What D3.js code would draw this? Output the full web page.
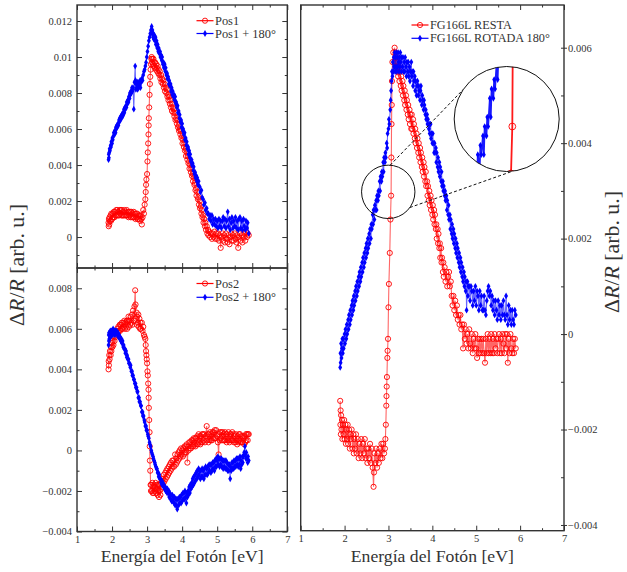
<!DOCTYPE html>
<html><head><meta charset="utf-8">
<script src="https://cdn.jsdelivr.net/npm/d3@7"></script>
<style>body{margin:0;background:#fff}svg{display:block}</style>
</head><body><svg id="c" width="627" height="572"></svg>
<script>
// ---------- DATA (photon energy eV, ΔR/R) ----------
const pos1 = [[1.90,.0008],[1.905,.0006],[1.91,.0010],[1.92,.0007],[1.93,.0011],[1.94,.0009],[1.96,.0012],[1.97,.0009],[1.98,.0013],[2.00,.0010],[2.02,.0013],[2.03,.0011],[2.05,.0014],[2.07,.0011],[2.08,.0014],[2.10,.0012],[2.12,.0015],[2.13,.0012],[2.15,.0015],[2.17,.0012],[2.18,.0014],[2.20,.0012],[2.22,.0015],[2.23,.0013],[2.25,.0015],[2.27,.0012],[2.28,.0015],[2.30,.0012],[2.32,.0014],[2.33,.0012],[2.35,.0015],[2.37,.0012],[2.38,.0014],[2.40,.0012],[2.42,.0015],[2.43,.0012],[2.45,.0014],[2.47,.0011],[2.48,.0014],[2.50,.0012],[2.52,.0014],[2.53,.0011],[2.55,.0014],[2.57,.0011],[2.58,.0013],[2.60,.0011],[2.62,.0014],[2.63,.0011],[2.65,.0013],[2.67,.0010],[2.68,.0013],[2.70,.0011],[2.72,.0013],[2.73,.0010],[2.75,.0012],[2.77,.0010],[2.78,.0012],[2.80,.0009],[2.82,.0012],[2.84,.0010],[2.85,.0007],[2.87,.0011],[2.89,.0015],[2.91,.0013],[2.93,.0018],[2.95,.0021],[2.96,.0025],[2.97,.0029],[2.98,.0032],[3.00,.0035],[3.01,.0042],[3.02,.0047],[3.03,.0052],[3.04,.0057],[3.045,.0062],[3.05,.0066],[3.06,.0072],[3.07,.0079],[3.08,.0085],[3.09,.0089],[3.10,.0093],[3.11,.0096],[3.12,.0099],[3.13,.0100],[3.14,.0097],[3.15,.0099],[3.17,.0096],[3.18,.0099],[3.19,.0095],[3.21,.0097],[3.22,.0094],[3.23,.0097],[3.25,.0093],[3.26,.0096],[3.27,.0094],[3.29,.0092],[3.30,.0095],[3.32,.0091],[3.33,.0093],[3.35,.0090],[3.36,.0092],[3.38,.0088],[3.40,.0090],[3.41,.0086],[3.43,.0088],[3.45,.0085],[3.46,.0087],[3.48,.0083],[3.50,.0085],[3.51,.0081],[3.53,.0083],[3.55,.0080],[3.56,.0082],[3.58,.0078],[3.60,.0079],[3.61,.0076],[3.63,.0078],[3.65,.0074],[3.66,.0076],[3.68,.0072],[3.70,.0074],[3.71,.0070],[3.73,.0072],[3.75,.0069],[3.76,.0071],[3.78,.0067],[3.80,.0069],[3.81,.0065],[3.83,.0066],[3.85,.0063],[3.86,.0065],[3.88,.0061],[3.90,.0062],[3.91,.0059],[3.93,.0060],[3.95,.0057],[3.96,.0059],[3.98,.0055],[4.00,.0056],[4.01,.0052],[4.03,.0054],[4.05,.0050],[4.06,.0052],[4.08,.0048],[4.10,.0049],[4.11,.0045],[4.13,.0047],[4.15,.0043],[4.16,.0045],[4.18,.0041],[4.20,.0042],[4.21,.0038],[4.23,.0040],[4.25,.0036],[4.26,.0038],[4.28,.0034],[4.30,.0035],[4.31,.0031],[4.33,.0033],[4.35,.0029],[4.36,.0030],[4.38,.0026],[4.40,.0027],[4.41,.0023],[4.43,.0025],[4.45,.0021],[4.46,.0022],[4.48,.0018],[4.50,.0020],[4.51,.0016],[4.53,.0017],[4.55,.0013],[4.56,.0015],[4.58,.0011],[4.60,.0012],[4.61,.0008],[4.63,.0010],[4.65,.0006],[4.66,.0008],[4.68,.0004],[4.70,.0006],[4.72,.0002],[4.74,.0004],[4.75,.0001],[4.77,.0003],[4.80,.0000],[4.82,.0002],[4.85,-.0001],[4.87,.0002],[4.90,.0000],[4.92,.0003],[4.95,-.0001],[4.97,.0002],[5.00,-.0001],[5.02,.0002],[5.05,-.0002],[5.07,.0001],[5.10,-.0006],[5.12,.0000],[5.15,.0002],[5.17,-.0002],[5.20,.0001],[5.22,-.0003],[5.25,.0002],[5.27,-.0001],[5.30,-.0003],[5.32,.0001],[5.35,-.0004],[5.37,.0000],[5.40,.0002],[5.42,-.0002],[5.45,.0001],[5.47,-.0002],[5.50,.0002],[5.52,-.0001],[5.55,-.0003],[5.57,.0001],[5.60,-.0006],[5.62,.0000],[5.65,.0002],[5.67,-.0002],[5.70,.0001],[5.72,-.0003],[5.75,.0000],[5.77,.0002],[5.80,-.0002],[5.82,.0003],[5.85,.0000],[5.87,.0002],[5.90,.0001]];
const pos1r = [[1.90,.0043],[1.905,.0046],[1.91,.0044],[1.92,.0047],[1.93,.0049],[1.94,.0048],[1.96,.0051],[1.97,.0050],[1.98,.0053],[2.00,.0052],[2.01,.0055],[2.02,.0054],[2.04,.0056],[2.05,.0058],[2.07,.0057],[2.08,.0059],[2.10,.0058],[2.11,.0061],[2.12,.0060],[2.14,.0062],[2.15,.0061],[2.17,.0063],[2.18,.0062],[2.20,.0065],[2.21,.0064],[2.22,.0066],[2.24,.0065],[2.25,.0067],[2.27,.0066],[2.28,.0068],[2.30,.0067],[2.31,.0069],[2.32,.0068],[2.34,.0071],[2.35,.0069],[2.37,.0072],[2.38,.0071],[2.40,.0073],[2.41,.0072],[2.42,.0075],[2.44,.0074],[2.45,.0076],[2.47,.0075],[2.48,.0078],[2.50,.0077],[2.51,.0080],[2.52,.0079],[2.54,.0081],[2.55,.0080],[2.57,.0083],[2.58,.0081],[2.60,.0083],[2.62,.0071],[2.64,.0086],[2.66,.0095],[2.67,.0087],[2.68,.0082],[2.69,.0085],[2.71,.0083],[2.72,.0086],[2.73,.0082],[2.75,.0085],[2.76,.0083],[2.77,.0086],[2.79,.0084],[2.80,.0087],[2.81,.0083],[2.83,.0086],[2.85,.0088],[2.87,.0087],[2.89,.0090],[2.91,.0092],[2.93,.0093],[2.95,.0095],[2.97,.0097],[2.99,.0100],[3.01,.0103],[3.03,.0106],[3.05,.0109],[3.07,.0111],[3.09,.0113],[3.11,.0115],[3.13,.0117],[3.14,.0113],[3.15,.0115],[3.17,.0111],[3.18,.0113],[3.19,.0110],[3.21,.0112],[3.23,.0109],[3.24,.0111],[3.25,.0107],[3.27,.0109],[3.29,.0105],[3.30,.0107],[3.32,.0103],[3.33,.0105],[3.35,.0102],[3.37,.0103],[3.38,.0100],[3.40,.0101],[3.42,.0098],[3.43,.0100],[3.45,.0096],[3.47,.0097],[3.48,.0094],[3.50,.0096],[3.52,.0092],[3.53,.0094],[3.55,.0090],[3.57,.0091],[3.58,.0088],[3.60,.0089],[3.62,.0085],[3.63,.0087],[3.65,.0084],[3.67,.0085],[3.68,.0081],[3.70,.0083],[3.72,.0079],[3.73,.0081],[3.75,.0078],[3.77,.0079],[3.78,.0076],[3.80,.0078],[3.82,.0074],[3.83,.0075],[3.85,.0072],[3.87,.0073],[3.88,.0069],[3.90,.0070],[3.92,.0066],[3.93,.0068],[3.95,.0064],[3.97,.0065],[3.98,.0061],[4.00,.0063],[4.02,.0059],[4.03,.0060],[4.05,.0057],[4.07,.0058],[4.08,.0054],[4.10,.0055],[4.12,.0051],[4.13,.0053],[4.15,.0049],[4.17,.0050],[4.18,.0046],[4.20,.0048],[4.22,.0044],[4.23,.0046],[4.25,.0042],[4.27,.0043],[4.28,.0040],[4.30,.0041],[4.32,.0037],[4.33,.0039],[4.35,.0035],[4.37,.0036],[4.38,.0033],[4.40,.0034],[4.42,.0031],[4.43,.0033],[4.45,.0029],[4.47,.0031],[4.50,.0028],[4.52,.0025],[4.55,.0026],[4.57,.0022],[4.60,.0021],[4.62,.0018],[4.65,.0019],[4.67,.0015],[4.70,.0016],[4.72,.0013],[4.75,.0013],[4.77,.0010],[4.80,.0012],[4.82,.0009],[4.85,.0012],[4.87,.0007],[4.90,.0010],[4.92,.0007],[4.95,.0010],[4.97,.0006],[5.00,.0009],[5.02,.0005],[5.05,.0010],[5.07,.0006],[5.10,.0009],[5.12,.0005],[5.15,.0009],[5.17,.0011],[5.20,.0006],[5.22,.0010],[5.25,.0005],[5.27,.0009],[5.30,.0014],[5.32,.0006],[5.35,.0010],[5.37,.0004],[5.40,.0008],[5.42,.0011],[5.45,.0005],[5.47,.0009],[5.50,.0006],[5.52,.0011],[5.55,.0005],[5.57,.0009],[5.60,.0004],[5.62,.0010],[5.65,.0011],[5.67,.0005],[5.70,.0009],[5.72,.0004],[5.75,.0010],[5.77,.0006],[5.80,.0004],[5.82,.0009],[5.85,.0005],[5.87,.0008],[5.90,.0002]];
const pos2 = [[1.90,.0040],[1.905,.0044],[1.91,.0042],[1.92,.0047],[1.93,.0045],[1.94,.0049],[1.96,.0047],[1.97,.0051],[1.98,.0049],[2.00,.0053],[2.01,.0051],[2.02,.0054],[2.04,.0052],[2.05,.0056],[2.07,.0054],[2.08,.0058],[2.10,.0056],[2.12,.0059],[2.13,.0057],[2.15,.0060],[2.17,.0058],[2.18,.0061],[2.20,.0059],[2.22,.0062],[2.23,.0059],[2.25,.0062],[2.27,.0060],[2.28,.0063],[2.30,.0060],[2.32,.0063],[2.33,.0061],[2.35,.0064],[2.37,.0060],[2.38,.0063],[2.40,.0061],[2.42,.0064],[2.43,.0060],[2.45,.0064],[2.47,.0066],[2.48,.0061],[2.50,.0064],[2.52,.0062],[2.53,.0066],[2.55,.0063],[2.57,.0067],[2.58,.0062],[2.60,.0069],[2.62,.0064],[2.64,.0071],[2.66,.0079],[2.67,.0072],[2.68,.0065],[2.70,.0068],[2.71,.0062],[2.72,.0066],[2.74,.0063],[2.75,.0067],[2.76,.0061],[2.78,.0065],[2.80,.0060],[2.81,.0063],[2.82,.0060],[2.85,.0063],[2.87,.0059],[2.89,.0061],[2.91,.0057],[2.93,.0056],[2.95,.0055],[2.96,.0052],[2.97,.0049],[2.98,.0047],[2.99,.0045],[3.00,.0043],[3.01,.0039],[3.02,.0037],[3.03,.0033],[3.04,.0030],[3.045,.0026],[3.05,.0021],[3.06,.0015],[3.07,.0009],[3.075,.0002],[3.08,-.0005],[3.09,-.0010],[3.10,-.0017],[3.11,-.0020],[3.12,-.0017],[3.14,-.0020],[3.15,-.0016],[3.16,-.0021],[3.18,-.0018],[3.19,-.0021],[3.20,-.0017],[3.22,-.0020],[3.23,-.0018],[3.24,-.0016],[3.26,-.0021],[3.27,-.0017],[3.28,-.0019],[3.30,-.0022],[3.31,-.0017],[3.32,-.0020],[3.34,-.0023],[3.35,-.0017],[3.36,-.0020],[3.38,-.0022],[3.39,-.0016],[3.40,-.0019],[3.42,-.0015],[3.44,-.0018],[3.45,-.0014],[3.47,-.0016],[3.48,-.0012],[3.50,-.0015],[3.52,-.0011],[3.53,-.0014],[3.55,-.0010],[3.57,-.0013],[3.58,-.0009],[3.60,-.0012],[3.62,-.0008],[3.63,-.0011],[3.65,-.0007],[3.67,-.0010],[3.68,-.0006],[3.70,-.0009],[3.72,-.0005],[3.73,-.0008],[3.75,-.0005],[3.77,-.0008],[3.80,-.0002],[3.82,-.0007],[3.83,-.0004],[3.85,-.0006],[3.87,-.0002],[3.88,-.0005],[3.90,-.0001],[3.92,-.0004],[3.93,.0000],[3.95,-.0003],[3.97,.0001],[3.98,-.0002],[4.00,.0000],[4.02,-.0003],[4.03,.0001],[4.05,-.0002],[4.07,.0002],[4.08,-.0001],[4.10,.0002],[4.12,-.0001],[4.13,.0003],[4.15,-.0006],[4.17,.0002],[4.18,.0000],[4.20,.0004],[4.22,.0001],[4.23,.0004],[4.25,.0001],[4.27,.0005],[4.28,.0002],[4.30,.0005],[4.32,.0002],[4.33,.0006],[4.35,.0003],[4.37,.0006],[4.38,.0002],[4.40,.0006],[4.42,.0003],[4.43,.0007],[4.45,.0003],[4.47,.0008],[4.48,.0004],[4.50,.0007],[4.52,.0003],[4.53,.0007],[4.55,.0004],[4.57,.0008],[4.58,.0004],[4.60,.0008],[4.62,.0005],[4.63,.0008],[4.65,.0004],[4.67,.0007],[4.70,.0012],[4.72,.0005],[4.73,.0008],[4.75,.0004],[4.77,.0008],[4.78,.0005],[4.80,.0009],[4.82,.0005],[4.83,.0008],[4.85,.0005],[4.87,.0009],[4.88,.0006],[4.90,.0009],[4.92,.0006],[4.93,.0010],[4.95,.0006],[4.97,.0010],[5.00,.0007],[5.02,.0004],[5.04,-.0002],[5.06,.0008],[5.07,.0005],[5.08,.0009],[5.10,.0006],[5.12,.0009],[5.13,.0005],[5.15,.0009],[5.17,.0005],[5.18,.0008],[5.20,.0005],[5.22,.0009],[5.23,.0005],[5.25,.0008],[5.27,.0004],[5.28,.0008],[5.30,.0005],[5.32,.0009],[5.33,.0005],[5.35,.0004],[5.37,.0008],[5.38,.0005],[5.40,.0008],[5.42,.0005],[5.43,.0009],[5.45,.0005],[5.47,.0008],[5.48,.0004],[5.50,.0007],[5.52,.0004],[5.53,.0008],[5.55,.0005],[5.57,.0003],[5.58,.0007],[5.60,.0004],[5.62,.0008],[5.63,.0005],[5.65,.0008],[5.67,.0004],[5.68,.0007],[5.70,.0004],[5.72,.0007],[5.73,.0004],[5.75,.0006],[5.77,.0003],[5.78,.0007],[5.80,.0004],[5.82,.0008],[5.83,.0005],[5.85,.0008],[5.87,.0005],[5.88,.0008],[5.90,.0008]];
const pos2r = [[1.90,.0052],[1.905,.0057],[1.91,.0054],[1.915,.0058],[1.92,.0055],[1.93,.0058],[1.94,.0056],[1.95,.0059],[1.96,.0056],[1.98,.0059],[1.99,.0057],[2.00,.0059],[2.02,.0057],[2.03,.0060],[2.05,.0058],[2.07,.0059],[2.08,.0057],[2.10,.0059],[2.12,.0058],[2.13,.0059],[2.15,.0057],[2.17,.0058],[2.18,.0056],[2.20,.0057],[2.22,.0055],[2.23,.0056],[2.25,.0054],[2.27,.0055],[2.28,.0053],[2.30,.0054],[2.32,.0051],[2.33,.0052],[2.35,.0050],[2.37,.0050],[2.38,.0048],[2.40,.0049],[2.42,.0046],[2.43,.0047],[2.45,.0045],[2.47,.0045],[2.48,.0043],[2.50,.0043],[2.52,.0041],[2.53,.0042],[2.55,.0039],[2.57,.0039],[2.58,.0037],[2.60,.0037],[2.62,.0035],[2.63,.0035],[2.65,.0033],[2.67,.0033],[2.68,.0031],[2.70,.0031],[2.72,.0029],[2.73,.0029],[2.75,.0026],[2.77,.0026],[2.78,.0024],[2.80,.0024],[2.82,.0022],[2.83,.0022],[2.85,.0019],[2.87,.0019],[2.88,.0017],[2.90,.0017],[2.92,.0015],[2.93,.0014],[2.95,.0012],[2.97,.0012],[2.98,.0010],[3.00,.0010],[3.02,.0008],[3.03,.0007],[3.05,.0006],[3.07,.0004],[3.08,.0003],[3.10,.0002],[3.12,.0000],[3.13,-.0001],[3.15,-.0002],[3.17,-.0003],[3.18,-.0004],[3.20,-.0005],[3.22,-.0006],[3.23,-.0007],[3.25,-.0008],[3.27,-.0009],[3.28,-.0009],[3.30,-.0011],[3.32,-.0011],[3.33,-.0013],[3.35,-.0012],[3.37,-.0014],[3.38,-.0014],[3.40,-.0016],[3.42,-.0015],[3.43,-.0017],[3.45,-.0016],[3.47,-.0018],[3.48,-.0017],[3.50,-.0019],[3.52,-.0018],[3.53,-.0020],[3.55,-.0019],[3.57,-.0021],[3.58,-.0019],[3.60,-.0021],[3.62,-.0020],[3.63,-.0023],[3.65,-.0021],[3.67,-.0024],[3.68,-.0022],[3.70,-.0025],[3.72,-.0022],[3.73,-.0025],[3.75,-.0023],[3.77,-.0026],[3.78,-.0023],[3.80,-.0027],[3.82,-.0024],[3.83,-.0027],[3.85,-.0024],[3.86,-.0029],[3.88,-.0024],[3.90,-.0027],[3.92,-.0023],[3.93,-.0026],[3.95,-.0023],[3.97,-.0026],[3.98,-.0022],[4.00,-.0025],[4.02,-.0021],[4.03,-.0024],[4.05,-.0021],[4.07,-.0024],[4.08,-.0020],[4.10,-.0023],[4.12,-.0026],[4.13,-.0021],[4.15,-.0023],[4.17,-.0020],[4.18,-.0022],[4.20,-.0018],[4.22,-.0021],[4.23,-.0017],[4.25,-.0019],[4.27,-.0016],[4.28,-.0018],[4.30,-.0014],[4.32,-.0017],[4.33,-.0013],[4.35,-.0016],[4.37,-.0012],[4.38,-.0015],[4.40,-.0011],[4.42,-.0014],[4.43,-.0010],[4.45,-.0013],[4.47,-.0009],[4.48,-.0012],[4.50,-.0010],[4.52,-.0014],[4.53,-.0010],[4.55,-.0013],[4.57,-.0009],[4.58,-.0013],[4.60,-.0010],[4.62,-.0014],[4.63,-.0009],[4.65,-.0012],[4.67,-.0008],[4.68,-.0012],[4.70,-.0009],[4.72,-.0012],[4.73,-.0008],[4.75,-.0011],[4.77,-.0007],[4.78,-.0010],[4.80,-.0007],[4.82,-.0011],[4.83,-.0007],[4.85,-.0010],[4.87,-.0006],[4.88,-.0009],[4.90,-.0006],[4.92,-.0010],[4.93,-.0005],[4.95,-.0008],[4.97,-.0004],[4.98,-.0008],[5.00,-.0005],[5.02,-.0003],[5.03,-.0007],[5.05,-.0004],[5.07,-.0008],[5.08,-.0004],[5.10,-.0007],[5.12,-.0004],[5.13,-.0008],[5.15,-.0005],[5.17,-.0009],[5.18,-.0005],[5.20,-.0008],[5.22,-.0005],[5.23,-.0009],[5.25,-.0005],[5.27,-.0009],[5.28,-.0006],[5.30,-.0010],[5.32,-.0007],[5.33,-.0010],[5.35,-.0007],[5.37,-.0014],[5.38,-.0008],[5.40,-.0010],[5.42,-.0006],[5.43,-.0009],[5.45,-.0006],[5.47,-.0009],[5.48,-.0005],[5.50,-.0008],[5.52,-.0005],[5.53,-.0008],[5.55,-.0004],[5.57,-.0007],[5.58,-.0004],[5.60,-.0008],[5.62,-.0004],[5.63,-.0007],[5.65,-.0003],[5.67,-.0009],[5.68,-.0005],[5.70,-.0007],[5.72,-.0003],[5.73,-.0006],[5.75,-.0003],[5.77,-.0001],[5.79,.0002],[5.80,-.0002],[5.82,-.0004],[5.83,-.0001],[5.85,-.0004],[5.87,-.0006],[5.88,-.0003],[5.90,-.0005]];
const resta = [[1.90,-.0014],[1.905,-.0019],[1.91,-.0016],[1.915,-.0021],[1.92,-.0017],[1.93,-.0020],[1.94,-.0018],[1.95,-.0022],[1.96,-.0019],[1.98,-.0021],[1.99,-.0018],[2.00,-.0022],[2.02,-.0019],[2.03,-.0023],[2.04,-.0020],[2.06,-.0022],[2.07,-.0019],[2.08,-.0023],[2.10,-.0020],[2.12,-.0024],[2.13,-.0021],[2.14,-.0022],[2.16,-.0020],[2.18,-.0024],[2.20,-.0021],[2.21,-.0025],[2.22,-.0022],[2.24,-.0024],[2.26,-.0021],[2.28,-.0025],[2.30,-.0022],[2.32,-.0026],[2.34,-.0023],[2.36,-.0025],[2.38,-.0022],[2.40,-.0026],[2.42,-.0023],[2.44,-.0025],[2.46,-.0022],[2.48,-.0026],[2.50,-.0024],[2.52,-.0027],[2.54,-.0024],[2.56,-.0026],[2.58,-.0023],[2.60,-.0027],[2.62,-.0024],[2.64,-.0028],[2.66,-.0032],[2.67,-.0029],[2.68,-.0025],[2.70,-.0027],[2.72,-.0024],[2.74,-.0028],[2.76,-.0025],[2.78,-.0027],[2.80,-.0024],[2.82,-.0026],[2.84,-.0023],[2.86,-.0026],[2.88,-.0023],[2.90,-.0025],[2.92,-.0024],[2.93,-.0022],[2.94,-.0019],[2.95,-.0015],[2.955,-.0013],[2.96,-.0011],[2.965,-.0009],[2.975,-.0005],[2.98,-.00035],[2.99,-.0001],[3.00,.00056],[3.01,.00105],[3.03,.0017],[3.045,.0024],[3.06,.0029],[3.065,.0037],[3.07,.0044],[3.075,.0048],[3.08,.0053],[3.09,.0057],[3.11,.0059],[3.14,.0060],[3.15,.0057],[3.16,.0059],[3.17,.0056],[3.18,.0058],[3.20,.0055],[3.21,.0057],[3.22,.0054],[3.24,.0056],[3.25,.0053],[3.26,.0055],[3.28,.0052],[3.29,.0054],[3.30,.0051],[3.32,.0053],[3.33,.0050],[3.34,.0052],[3.36,.0049],[3.37,.0051],[3.38,.0048],[3.40,.0050],[3.41,.0047],[3.42,.0049],[3.44,.0046],[3.45,.0048],[3.46,.0045],[3.48,.0047],[3.49,.0044],[3.50,.0046],[3.52,.0043],[3.53,.0046],[3.54,.0043],[3.56,.0045],[3.57,.0042],[3.58,.0044],[3.60,.0041],[3.61,.0043],[3.62,.0040],[3.64,.0042],[3.65,.0039],[3.66,.0041],[3.68,.0038],[3.69,.0040],[3.70,.0037],[3.72,.0039],[3.73,.0036],[3.74,.0038],[3.76,.0035],[3.77,.0037],[3.78,.0034],[3.80,.0036],[3.81,.0033],[3.82,.0035],[3.84,.0032],[3.85,.0034],[3.86,.0031],[3.88,.0032],[3.89,.0029],[3.90,.0031],[3.92,.0028],[3.93,.0030],[3.94,.0027],[3.96,.0029],[3.97,.0026],[3.98,.0028],[4.00,.0025],[4.01,.0027],[4.02,.0024],[4.04,.0026],[4.05,.0023],[4.06,.0025],[4.08,.0022],[4.09,.0023],[4.10,.0020],[4.12,.0022],[4.13,.0019],[4.14,.0021],[4.16,.0018],[4.17,.0019],[4.18,.0016],[4.20,.0018],[4.21,.0015],[4.22,.0016],[4.24,.0013],[4.25,.0015],[4.26,.0012],[4.28,.0014],[4.30,.0011],[4.32,.0013],[4.34,.0010],[4.36,.0012],[4.38,.0013],[4.40,.0010],[4.42,.0011],[4.44,.0008],[4.46,.0006],[4.48,.0008],[4.50,.0005],[4.52,.0007],[4.54,.0004],[4.56,.0006],[4.58,.0003],[4.60,.0004],[4.62,.0002],[4.64,.0004],[4.66,.0001],[4.68,.0002],[4.70,-.0003],[4.72,.0002],[4.74,-.0001],[4.76,.0001],[4.78,-.0002],[4.80,.0000],[4.82,-.0003],[4.84,.0001],[4.86,-.0002],[4.88,-.0003],[4.90,.0000],[4.92,-.0004],[4.94,-.0001],[4.96,-.0003],[4.98,.0000],[5.00,-.0003],[5.02,-.0005],[5.04,-.0001],[5.06,-.0004],[5.08,-.0001],[5.10,-.0004],[5.12,-.0001],[5.14,-.0004],[5.16,-.0001],[5.18,-.0004],[5.20,-.0006],[5.22,-.0001],[5.24,-.0004],[5.26,.0000],[5.28,-.0004],[5.30,-.0001],[5.32,-.0004],[5.34,.0000],[5.36,-.0004],[5.38,-.0001],[5.40,-.0004],[5.42,.0000],[5.44,-.0003],[5.46,-.0001],[5.48,-.0004],[5.50,-.0001],[5.52,.0000],[5.54,-.0004],[5.56,-.0001],[5.58,-.0004],[5.60,.0000],[5.62,-.0002],[5.64,-.0004],[5.66,.0000],[5.68,-.0003],[5.70,.0000],[5.72,-.0006],[5.74,-.0001],[5.76,-.0004],[5.78,.0000],[5.80,-.0003],[5.82,-.0004],[5.84,-.0001],[5.86,-.0004],[5.88,-.0001],[5.90,-.0003]];
const rotada = [[1.90,-.0007],[1.905,-.0004],[1.91,-.0006],[1.92,-.0002],[1.93,-.0005],[1.94,-.0003],[1.95,-.0001],[1.96,-.0004],[1.97,-.0001],[1.98,-.0003],[2.00,.0000],[2.01,-.0002],[2.02,.0001],[2.04,-.0001],[2.05,.0002],[2.06,.0000],[2.08,.0003],[2.09,.0001],[2.10,.0004],[2.12,.0002],[2.13,.0005],[2.14,.0003],[2.16,.0006],[2.17,.0004],[2.18,.0007],[2.20,.0005],[2.21,.0008],[2.22,.0006],[2.24,.0009],[2.25,.0007],[2.26,.0010],[2.28,.0008],[2.29,.0011],[2.30,.0009],[2.32,.0012],[2.33,.0010],[2.34,.0013],[2.36,.0011],[2.37,.0014],[2.38,.0012],[2.40,.0015],[2.41,.0013],[2.42,.0016],[2.44,.0014],[2.45,.0017],[2.46,.0015],[2.48,.0018],[2.49,.0016],[2.50,.0019],[2.52,.0017],[2.53,.0020],[2.54,.0018],[2.56,.0021],[2.57,.0019],[2.58,.0022],[2.60,.0020],[2.61,.0023],[2.62,.0022],[2.64,.0025],[2.65,.0023],[2.66,.0026],[2.68,.0024],[2.69,.0027],[2.70,.0026],[2.72,.0028],[2.73,.0026],[2.74,.0029],[2.76,.0028],[2.77,.0030],[2.78,.0029],[2.80,.0032],[2.81,.0030],[2.82,.0033],[2.84,.0032],[2.85,.0034],[2.86,.0033],[2.88,.0036],[2.89,.0034],[2.90,.0037],[2.92,.0036],[2.93,.0038],[2.94,.0037],[2.96,.0040],[2.97,.0039],[2.98,.0042],[3.00,.0043],[3.01,.0045],[3.02,.0044],[3.04,.0047],[3.05,.0049],[3.06,.0051],[3.07,.0053],[3.08,.0055],[3.09,.0054],[3.10,.0057],[3.11,.0055],[3.12,.0058],[3.13,.0056],[3.14,.0059],[3.15,.0055],[3.16,.0058],[3.17,.0056],[3.18,.0059],[3.19,.0055],[3.20,.0058],[3.21,.0056],[3.22,.0059],[3.23,.0057],[3.24,.0055],[3.25,.0058],[3.26,.0056],[3.27,.0059],[3.28,.0057],[3.29,.0055],[3.30,.0058],[3.32,.0056],[3.33,.0058],[3.34,.0055],[3.36,.0057],[3.37,.0055],[3.38,.0058],[3.40,.0056],[3.41,.0054],[3.42,.0057],[3.44,.0055],[3.45,.0057],[3.46,.0054],[3.48,.0056],[3.49,.0053],[3.50,.0055],[3.52,.0057],[3.53,.0054],[3.54,.0055],[3.56,.0052],[3.57,.0055],[3.58,.0053],[3.60,.0054],[3.61,.0051],[3.62,.0053],[3.64,.0050],[3.65,.0052],[3.66,.0053],[3.68,.0050],[3.69,.0052],[3.70,.0051],[3.72,.0049],[3.73,.0051],[3.74,.0052],[3.76,.0048],[3.77,.0050],[3.78,.0049],[3.80,.0047],[3.81,.0049],[3.82,.0048],[3.84,.0046],[3.85,.0047],[3.86,.0045],[3.88,.0046],[3.89,.0044],[3.90,.0045],[3.92,.0043],[3.93,.0044],[3.94,.0042],[3.96,.0044],[3.97,.0041],[3.98,.0042],[4.00,.0040],[4.01,.0042],[4.02,.0040],[4.04,.0038],[4.05,.0040],[4.06,.0038],[4.08,.0039],[4.09,.0036],[4.10,.0038],[4.12,.0035],[4.13,.0037],[4.14,.0034],[4.16,.0036],[4.17,.0033],[4.18,.0035],[4.20,.0032],[4.21,.0034],[4.22,.0031],[4.24,.0032],[4.25,.0030],[4.26,.0031],[4.28,.0029],[4.29,.0030],[4.30,.0028],[4.32,.0029],[4.33,.0026],[4.34,.0028],[4.36,.0025],[4.37,.0027],[4.38,.0024],[4.40,.0025],[4.41,.0022],[4.42,.0024],[4.44,.0021],[4.45,.0023],[4.46,.0020],[4.48,.0022],[4.49,.0019],[4.50,.0021],[4.52,.0018],[4.53,.0020],[4.54,.0017],[4.56,.0019],[4.57,.0016],[4.58,.0018],[4.60,.0015],[4.61,.0017],[4.62,.0014],[4.64,.0016],[4.65,.0013],[4.66,.0015],[4.68,.0012],[4.69,.0014],[4.70,.0011],[4.72,.0013],[4.73,.0010],[4.74,.0012],[4.76,.0009],[4.77,.0011],[4.78,.0005],[4.80,.0011],[4.81,.0008],[4.82,.0010],[4.84,.0010],[4.86,.0007],[4.88,.0010],[4.90,.0009],[4.92,.0006],[4.94,.0009],[4.96,.0007],[4.98,.0010],[5.00,.0006],[5.02,.0009],[5.04,.0008],[5.06,.0005],[5.08,.0009],[5.10,.0006],[5.12,.0008],[5.14,.0005],[5.16,.0005],[5.18,.0008],[5.20,.0005],[5.22,.0004],[5.24,.0007],[5.26,.0009],[5.28,.0010],[5.30,.0008],[5.32,.0009],[5.34,.0006],[5.36,.0008],[5.38,.0005],[5.40,.0007],[5.42,.0004],[5.44,.0007],[5.46,.0005],[5.48,.0003],[5.50,.0007],[5.52,.0004],[5.54,.0006],[5.56,.0003],[5.58,.0006],[5.60,.0004],[5.62,.0007],[5.64,.0004],[5.66,.0003],[5.68,.0008],[5.70,.0004],[5.72,.0002],[5.74,.0006],[5.76,.0003],[5.78,.0005],[5.80,.0002],[5.82,.0005],[5.84,.0003],[5.86,.0002],[5.88,.0005],[5.90,.0004]];

const xMajor = [1,2,3,4,5,6,7];
const xMinor = [1.5,2.5,3.5,4.5,5.5,6.5];
const yTopMajor = [0,.002,.004,.006,.008,.01,.012];
const yTopMinor = [-.001,.001,.003,.005,.007,.009,.011];
const yBotMajor = [-.004,-.002,0,.002,.004,.006,.008];
const yBotMinor = [-.003,-.001,.001,.003,.005,.007];
const yRtMajor = [-.004,-.002,0,.002,.004,.006];
const yRtMinor = [-.003,-.001,.001,.003,.005];
const legTop = ["Pos1","Pos1 + 180°"];
const legBot = ["Pos2","Pos2 + 180°"];
const legRt = ["FG166L RESTA","FG166L ROTADA 180°"];
const xTitle = "Energía del Fotón [eV]";

// ---------- SETUP ----------
const FONT = '"Liberation Serif", "DejaVu Serif", "Times New Roman", serif';
const AX = "#333", RED = "#ff0000", BLUE = "#0000ff";
const svg = d3.select("#c");

const xL = d3.scaleLinear().domain([1,7]).range([77,287.3]);
const xR = d3.scaleLinear().domain([1,7]).range([300.7,564]);
const yTop = d3.scaleLinear().domain([-0.00172,0.01289]).range([268,5]);
const yBot = d3.scaleLinear().domain([-0.004,0.009]).range([531.5,268]);
const yRt = d3.scaleLinear().domain([-0.00412,0.006895]).range([530.7,5]);

const fmt = d => d===0 ? "0" : (d<0?"\u2212":"") + String(+Math.abs(d).toFixed(3));

function axes(x, y, o){
  const [x0,x1] = x.range(), [y1,y0] = y.range();
  const g = svg.append("g");
  const add = (ax, tx, ty) => g.append("g").attr("transform",`translate(${tx},${ty})`).call(ax);
  add(d3.axisBottom(x).tickValues(xMajor).tickSize(-5).tickPadding(4).tickFormat(o.xLabels ? d3.format("d") : ""), 0, y1);
  add(d3.axisBottom(x).tickValues(xMinor).tickSize(-2.5).tickFormat(""), 0, y1);
  add(d3.axisTop(x).tickValues(xMajor).tickSize(-5).tickFormat(""), 0, y0);
  add(d3.axisTop(x).tickValues(xMinor).tickSize(-2.5).tickFormat(""), 0, y0);
  if (o.side === "left"){
    add(d3.axisLeft(y).tickValues(o.major).tickSize(-5).tickPadding(5).tickFormat(fmt), x0, 0);
    add(d3.axisLeft(y).tickValues(o.minor).tickSize(-2.5).tickFormat(""), x0, 0);
    add(d3.axisRight(y).tickValues(o.major).tickSize(-5).tickFormat(""), x1, 0);
    add(d3.axisRight(y).tickValues(o.minor).tickSize(-2.5).tickFormat(""), x1, 0);
  } else {
    add(d3.axisRight(y).tickValues(o.major).tickSize(3).tickPadding(1).tickFormat(fmt), x1, 0);
    add(d3.axisRight(y).tickValues(o.major).tickSize(-3).tickFormat(""), x1, 0);
    add(d3.axisRight(y).tickValues(o.minor).tickSize(-3).tickFormat(""), x1, 0);
  }
  g.selectAll(".domain").remove();
  g.selectAll("g").attr("font-family", FONT);
  g.selectAll(".tick line").attr("stroke", AX).attr("stroke-width",1);
  g.selectAll("text").attr("font-size",10.5).attr("fill","#333");
  svg.append("rect").attr("x",x0).attr("y",y0).attr("width",x1-x0).attr("height",y1-y0)
    .attr("fill","none").attr("stroke",AX).attr("stroke-width",1.4);
}

function series(g, data, x, y, kind){
  const line = d3.line().x(d=>x(d[0])).y(d=>y(d[1]));
  const col = kind==="r" ? RED : BLUE;
  g.append("path").attr("class","ln").attr("d", line(data)).attr("fill","none").attr("stroke", col)
    .attr("stroke-width",1.1).attr("stroke-opacity",0.6);
  if (kind==="r"){
    g.append("g").selectAll("circle").data(data).join("circle")
      .attr("cx",d=>x(d[0])).attr("cy",d=>y(d[1])).attr("r",2.6)
      .attr("fill","none").attr("stroke",col).attr("stroke-width",0.9);
  } else {
    const sym = d3.symbol(d3.symbolDiamond, 13)();
    g.append("g").selectAll("path").data(data).join("path").attr("d",sym)
      .attr("transform",d=>`translate(${x(d[0])},${y(d[1])})`).attr("fill",col);
  }
}

function legend(labels, lx, ly, dy, w){
  const g = svg.append("g");
  const texts = labels.map((t,i)=>{
    const yy = ly + i*dy, col = i===0 ? RED : BLUE;
    g.append("line").attr("x1",lx).attr("x2",lx+17).attr("y1",yy).attr("y2",yy).attr("stroke",col).attr("stroke-width",1.2);
    if (i===0) g.append("circle").attr("cx",lx+8.5).attr("cy",yy).attr("r",2.6).attr("fill","none").attr("stroke",col).attr("stroke-width",0.9);
    else g.append("path").attr("d",d3.symbol(d3.symbolDiamond,14)()).attr("transform",`translate(${lx+8.5},${yy})`).attr("fill",col);
    return g.append("text").attr("x",lx+18.5).attr("y",yy+4).style("font-family",FONT).attr("font-size",12).attr("fill","#333").text(t);
  });
  const l = texts[1].node().getComputedTextLength();
  texts.forEach(t=>t.attr("font-size",12*w/l));
}

// ---------- PANELS ----------
axes(xL, yTop, {side:"left", major:yTopMajor, minor:yTopMinor, xLabels:false});
axes(xL, yBot, {side:"left", major:yBotMajor, minor:yBotMinor, xLabels:true});
axes(xR, yRt, {side:"right", major:yRtMajor, minor:yRtMinor, xLabels:true});

const gTop = svg.append("g"); series(gTop, pos1, xL, yTop, "r"); series(gTop, pos1r, xL, yTop, "b");
const gBot = svg.append("g"); series(gBot, pos2, xL, yBot, "r"); series(gBot, pos2r, xL, yBot, "b");
const gRt = svg.append("g"); series(gRt, resta, xR, yRt, "r"); series(gRt, rotada, xR, yRt, "b");

legend(legTop, 196.5, 20.7, 12.8, 61);
legend(legBot, 196.5, 283.5, 13.8, 61);
legend(legRt, 411.5, 25, 13.3, 120);

// ---------- MAGNIFIER ----------
const sC = {x:xR(2.995), y:yRt(0.00298), r:26.7};
const bC = {x:506.7, y:119, r:52.5};
const M = bC.r / sC.r;
const xi = d3.scaleLinear().domain(xR.domain()).range(xR.range().map(p => bC.x + M*(p - sC.x)));
const yi = d3.scaleLinear().domain(yRt.domain()).range(yRt.range().map(p => bC.y + M*(p - sC.y)));
const pt = (c,a) => [c.x + c.r*Math.cos(a*Math.PI/180), c.y + c.r*Math.sin(a*Math.PI/180)];
[[-86,-145.6],[35.9,83.5]].forEach(([a1,a2])=>{
  const p1 = pt(sC,a1), p2 = pt(bC,a2);
  svg.append("line").attr("x1",p1[0]).attr("y1",p1[1]).attr("x2",p2[0]).attr("y2",p2[1])
    .attr("stroke","#111").attr("stroke-width",1).attr("stroke-dasharray","3,2.2");
});
svg.append("circle").attr("cx",sC.x).attr("cy",sC.y).attr("r",sC.r).attr("fill","none").attr("stroke","#111").attr("stroke-width",1);
svg.append("clipPath").attr("id","mag").append("circle").attr("cx",bC.x).attr("cy",bC.y).attr("r",bC.r);
svg.append("circle").attr("cx",bC.x).attr("cy",bC.y).attr("r",bC.r).attr("fill","#fff");
const gMag = svg.append("g").attr("clip-path","url(#mag)");
series(gMag, rotada, xi, yi, "b");
series(gMag, resta, xi, yi, "r");
gMag.selectAll("path.ln").attr("stroke-width",1.8).attr("stroke-opacity",0.9);
gMag.selectAll("circle").attr("r",3.4);
svg.append("circle").attr("cx",bC.x).attr("cy",bC.y).attr("r",bC.r).attr("fill","none").attr("stroke","#111").attr("stroke-width",1);

// ---------- TITLES ----------
function fit(sel, w){ const l = sel.node().getComputedTextLength(); sel.attr("font-size", 16*w/l); }
[[182.2,xTitle],[432.3,xTitle]].forEach(([cx,t])=>{
  const s = svg.append("text").attr("x",cx).attr("y",562).attr("text-anchor","middle")
    .style("font-family",FONT).attr("font-size",16).attr("fill","#333").text(t);
  fit(s,163);
});
function yTitle(cx, cy){
  const s = svg.append("text").attr("transform",`translate(${cx},${cy}) rotate(-90)`).attr("text-anchor","middle")
    .style("font-family",FONT).attr("font-size",16).attr("fill","#333");
  s.append("tspan").text("\u0394");
  s.append("tspan").attr("font-style","italic").text("R");
  s.append("tspan").text("/");
  s.append("tspan").attr("font-style","italic").text("R");
  s.append("tspan").text(" [arb. u.]");
  fit(s,122);
}
yTitle(24, 265);
yTitle(619, 252);
svg.selectAll("text").style("font-family", FONT);
</script></body></html>
